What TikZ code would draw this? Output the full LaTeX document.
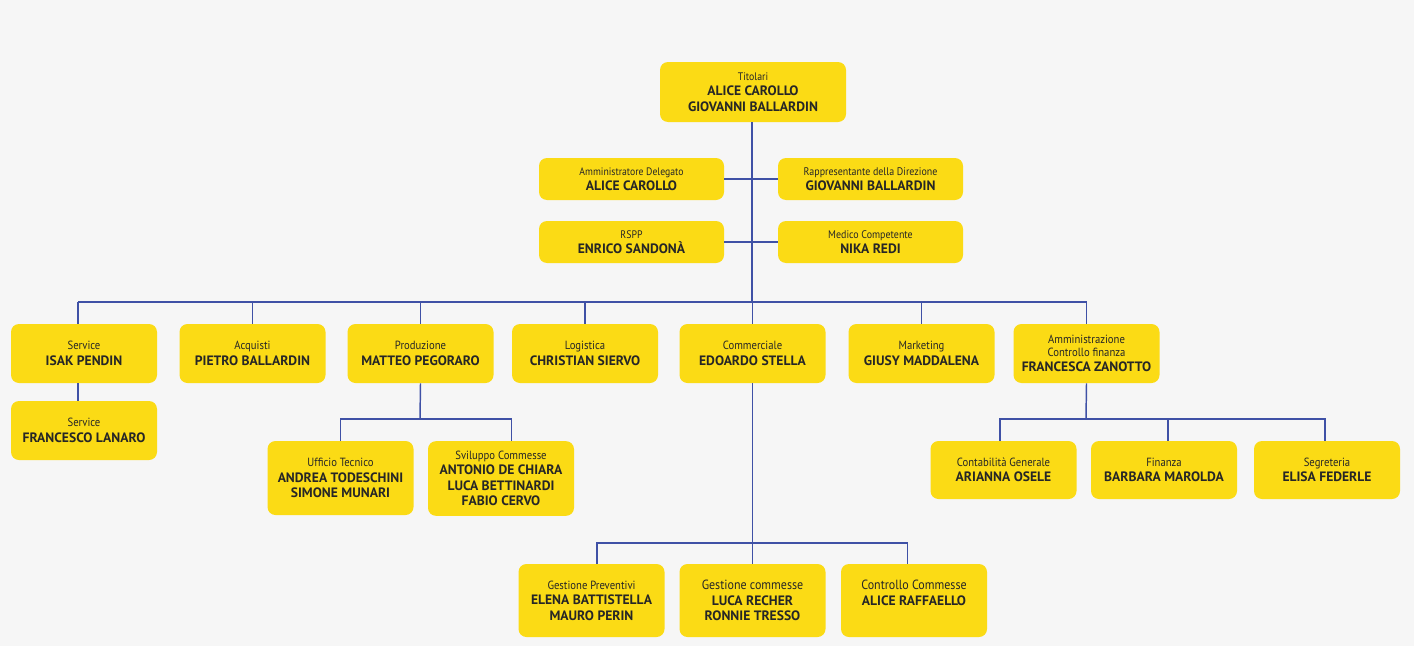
\documentclass[tikz,border=0pt]{standalone}
\usepackage{fontspec}
\setmainfont{PT Sans}
\newfontfamily\rolefont{PT Sans}[FakeStretch=0.9]
\usetikzlibrary{positioning}
\usepackage{xcolor}
\definecolor{orgyellow}{HTML}{FBDB15}
\definecolor{orgblue}{HTML}{3F51A6}
\definecolor{orgbg}{HTML}{F6F6F6}
\newcommand{\role}[2][8.9]{{\rolefont\fontsize{#1}{11.6}\selectfont #2}}
\newcommand{\who}[1]{{\fontsize{10.2}{11.6}\selectfont\bfseries #1}}

\begin{document}
\begin{tikzpicture}[x=0.75pt, y=-0.75pt,
    every node/.style={font=\fontsize{10.2}{11.6}\selectfont, text=black!85},
    unit/.style={fill=orgyellow, rounded corners=6pt, align=center, inner sep=0pt,
        minimum width=109.5pt, minimum height=44.25pt},
    staff/.style={unit, minimum width=138.75pt, minimum height=31.5pt},
    link/.style={draw=orgblue, line width=1.1pt}]
    \fill[orgbg] (0,0) rectangle (1414,646);
    \useasboundingbox (0,0) rectangle (1414,646);

    % vertice
    \node[unit, minimum width=139.5pt, minimum height=45pt] (tit) at (753,92)
        {\role[8.2]{Titolari}\\\who{ALICE CAROLLO}\\\who{GIOVANNI BALLARDIN}};
    \node[staff] (ad) at (631.5,179) {\role[8.1]{Amministratore Delegato}\\\who{ALICE CAROLLO}};
    \node[staff] (rd) at (870.5,179) {\role[8.3]{Rappresentante della Direzione}\\\who{GIOVANNI BALLARDIN}};
    \node[staff] (rspp) at (631.5,242) {\role[8.2]{RSPP}\\\who{ENRICO SANDONÀ}};
    \node[staff] (mc) at (870.5,242) {\role[8.3]{Medico Competente}\\\who{NIKA REDI}};
    \coordinate (bus) at (752,302);

    % aree
    \node[unit] (svc) at (84,353.5) {\role{Service}\\\who{ISAK PENDIN}};
    \node[unit] (acq) at (252.5,353.5) {\role{Acquisti}\\\who{PIETRO BALLARDIN}};
    \node[unit] (prod) at (420.5,353.5) {\role{Produzione}\\\who{MATTEO PEGORARO}};
    \node[unit] (log) at (585,353.5) {\role{Logistica}\\\who{CHRISTIAN SIERVO}};
    \node[unit] (comm) at (752.5,353.5) {\role{Commerciale}\\\who{EDOARDO STELLA}};
    \node[unit] (mkt) at (921.5,353.5) {\role{Marketing}\\\who{GIUSY MADDALENA}};
    \node[unit] (amm) at (1086.5,353.5)
        {\role{Amministrazione}\\[-2.2pt]\role{Controllo finanza}\\\who{FRANCESCA ZANOTTO}};

    % sotto-aree
    \node[unit] (svc2) at (84,430.5) {\role{Service}\\\who{FRANCESCO LANARO}};
    \node[unit, minimum height=55.5pt] (ut) at (340.5,478)
        {\role{Ufficio Tecnico}\\\who{ANDREA TODESCHINI}\\\who{SIMONE MUNARI}};
    \node[unit, minimum height=56pt] (sc) at (501,478.5)
        {\role{Sviluppo Commesse}\\\who{ANTONIO DE CHIARA}\\\who{LUCA BETTINARDI}\\\who{FABIO CERVO}};
    \node[unit, minimum height=54.75pt] (gp) at (591.5,600.5)
        {\role{Gestione Preventivi}\\\who{ELENA BATTISTELLA}\\\who{MAURO PERIN}};
    \node[unit, minimum height=54.75pt] (gc) at (752.5,600.5)
        {\role[10]{Gestione commesse}\\\who{LUCA RECHER}\\\who{RONNIE TRESSO}};
    \node[unit, minimum height=54.75pt] (cc) at (914,600.5)
        {\role[10]{Controllo Commesse}\\\who{ALICE RAFFAELLO}\\\mbox{}};
    \node[unit, minimum height=43.5pt] (cg) at (1003.5,470) {\role{Contabilità Generale}\\\who{ARIANNA OSELE}};
    \node[unit, minimum height=43.5pt] (fin) at (1164,470) {\role{Finanza}\\\who{BARBARA MAROLDA}};
    \node[unit, minimum height=43.5pt] (seg) at (1327,470) {\role{Segreteria}\\\who{ELISA FEDERLE}};
    \coordinate (pbus) at (420,419);
    \coordinate (cbus) at (752,543);
    \coordinate (abus) at (1086,419);

    \draw[link] (tit.south -| bus) -- (bus);
    \draw[link] (ad.east) -- (rd.west);
    \draw[link] (rspp.east) -- (mc.west);
    \draw[link] ([xshift=-4.5pt]svc.north |- bus) -- (amm.north |- bus);
    \draw[link] ([xshift=-4.5pt]svc.north |- bus) -- ([xshift=-4.5pt]svc.north);
    \foreach \n in {acq,prod,log,comm,mkt,amm}
        \draw[link] (\n.north |- bus) -- (\n.north);
    \draw[link] ([xshift=-4.5pt]svc.south) -- ([xshift=-4.5pt]svc2.north);
    \draw[link] (prod.south) -- (pbus);
    \draw[link] (ut.north) -- (ut.north |- pbus) -- ([xshift=8pt]sc.north |- pbus) -- ([xshift=8pt]sc.north);
    \draw[link] (comm) -- (gc);
    \draw[link] ([xshift=4pt]gp.north) -- ([xshift=4pt]gp.north |- cbus)
        -- ([xshift=-5pt]cc.north |- cbus) -- ([xshift=-5pt]cc.north);
    \draw[link] (amm.south) -- (abus);
    \draw[link] ([xshift=-2.5pt]cg.north) -- ([xshift=-2.5pt]cg.north |- abus)
        -- ([xshift=-1.5pt]seg.north |- abus) -- ([xshift=-1.5pt]seg.north);
    \draw[link] ([xshift=3pt]fin.north |- abus) -- ([xshift=3pt]fin.north);
\end{tikzpicture}
\end{document}
